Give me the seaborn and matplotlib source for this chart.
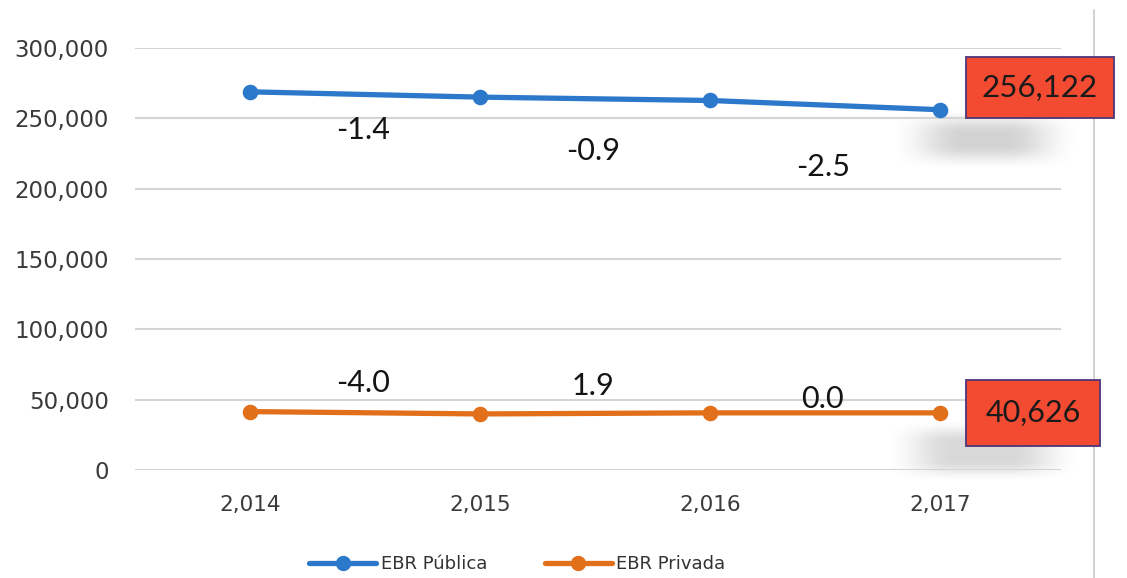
import matplotlib
matplotlib.use("Agg")
import matplotlib.pyplot as plt
import seaborn as sns
import pandas as pd
import numpy as np
from matplotlib.lines import Line2D

# ---- data ----
years = [2014, 2015, 2016, 2017]
year_labels = ["2,014", "2,015", "2,016", "2,017"]
publica = [268838, 265075, 262689, 256122]
privada = [41529, 39868, 40626, 40626]
pct_publica = ["-1.4", "-0.9", "-2.5"]
pct_privada = ["-4.0", "1.9", "0.0"]
series_names = ["EBR Pública", "EBR Privada"]
y_ticks = [0, 50000, 100000, 150000, 200000, 250000, 300000]

# layout of the change labels (y in data units)
pct_pub_y = [242000, 226500, 215500]
pct_priv_y = [61500, 60000, 50800]

W, H = 1127, 578

sns.set_theme(style="white")
plt.rcParams["font.family"] = ["DejaVu Sans"]

df = pd.DataFrame({
    "idx": list(range(len(years))) * 2,
    "value": publica + privada,
    "serie": [series_names[0]] * len(years) + [series_names[1]] * len(years),
})

colors = {series_names[0]: "#2C78CB", series_names[1]: "#E2701A"}

fig = plt.figure(figsize=(W / 100, H / 100), dpi=100)
ax = fig.add_axes([135 / W, 1 - 470 / H, (1061 - 135) / W, (470 - 48) / H])
ax.set_zorder(2)
ax.patch.set_alpha(0)


# soft shadows beneath the value boxes (figure pixel regions)
def soft_shadow(x0, x1, y0, y1, fade_x, fade_y, amax):
    sax = fig.add_axes([x0 / W, 1 - y1 / H, (x1 - x0) / W, (y1 - y0) / H])
    sax.set_zorder(1)
    sax.axis("off")
    nx, ny = int(x1 - x0), int(y1 - y0)
    xs = np.arange(nx) + 0.5
    ys = np.arange(ny) + 0.5
    fx = np.clip(xs / fade_x, 0, 1) * np.clip((nx - xs) / fade_x, 0, 1)
    fy = np.clip(ys / fade_y, 0, 1) * np.clip((ny - ys) / fade_y, 0, 1)
    fx = fx * fx * (3 - 2 * fx)
    fy = fy * fy * (3 - 2 * fy)
    a = np.outer(fy, fx)
    img = np.zeros((ny, nx, 4))
    img[..., :3] = 0.42
    img[..., 3] = a * amax
    sax.imshow(img, aspect="auto", interpolation="bilinear")


soft_shadow(890, 1080, 108, 170, 75, 26, 0.30)
soft_shadow(885, 1080, 420, 482, 70, 22, 0.26)

sns.lineplot(data=df, x="idx", y="value", hue="serie", palette=colors,
             marker="o", markersize=10, linewidth=3.8, markeredgewidth=1.2,
             ax=ax, legend=False)
for l in ax.lines:
    l.set_markeredgecolor(l.get_color())

ax.set_xlim(-0.5, 3.526)
ax.set_ylim(0, 300000)
ax.set_yticks(y_ticks)
ax.set_yticklabels([f"{v:,}" for v in y_ticks], fontsize=16.5, color="#3a3a3a")
ax.set_xticks(range(len(years)))
ax.set_xticklabels(year_labels, fontsize=15.5, color="#3a3a3a")
ax.tick_params(axis="x", pad=18, length=0)
ax.tick_params(axis="y", pad=19, length=0)
ax.set_xlabel("")
ax.set_ylabel("")
for s in ax.spines.values():
    s.set_visible(False)
ax.yaxis.grid(True, color="#D4D4D4", linewidth=1.5)
ax.set_axisbelow(True)

# change labels
for i, (t, yv) in enumerate(zip(pct_publica, pct_pub_y)):
    ax.text(i + 0.49, yv, t, ha="center", va="center", fontsize=22,
            color="#141414", family="Lato")
for i, (t, yv) in enumerate(zip(pct_privada, pct_priv_y)):
    ax.text(i + 0.49, yv, t, ha="center", va="center", fontsize=22,
            color="#141414", family="Lato")

# value boxes at last point
ax.annotate(f"{publica[-1]:,}", xy=(3, publica[-1]), xytext=(100, 22),
            textcoords="offset pixels", ha="center", va="center",
            fontsize=22.5, color="#1a1a1a", zorder=5, annotation_clip=False,
            family="Lato",
            bbox=dict(boxstyle="square,pad=0.52", facecolor="#F34A32",
                      edgecolor="#4E3478", linewidth=1.3))
ax.annotate(f"{privada[-1]:,}", xy=(3, privada[-1]), xytext=(93, 0),
            textcoords="offset pixels", ha="center", va="center",
            fontsize=22, color="#1a1a1a", zorder=5, annotation_clip=False,
            family="Lato",
            bbox=dict(boxstyle="square,pad=0.62", facecolor="#F34A32",
                      edgecolor="#4E3478", linewidth=1.3))

# right border line
fig.add_artist(Line2D([1094 / W, 1094 / W], [0, 1 - 10 / H],
                      transform=fig.transFigure, color="#C8C8C8", linewidth=1.2,
                      zorder=0))

handles = [Line2D([0], [0], color=colors[n], marker="o", markersize=10,
                  linewidth=3.8, markeredgecolor=colors[n]) for n in series_names]
fig.legend(handles, series_names, loc="lower center", bbox_to_anchor=(0.459, -0.02),
           ncol=2, frameon=False, fontsize=13, handlelength=3.7,
           columnspacing=3.2, handletextpad=0.25, labelcolor="#333333")

fig.savefig("out.png", dpi=100)
